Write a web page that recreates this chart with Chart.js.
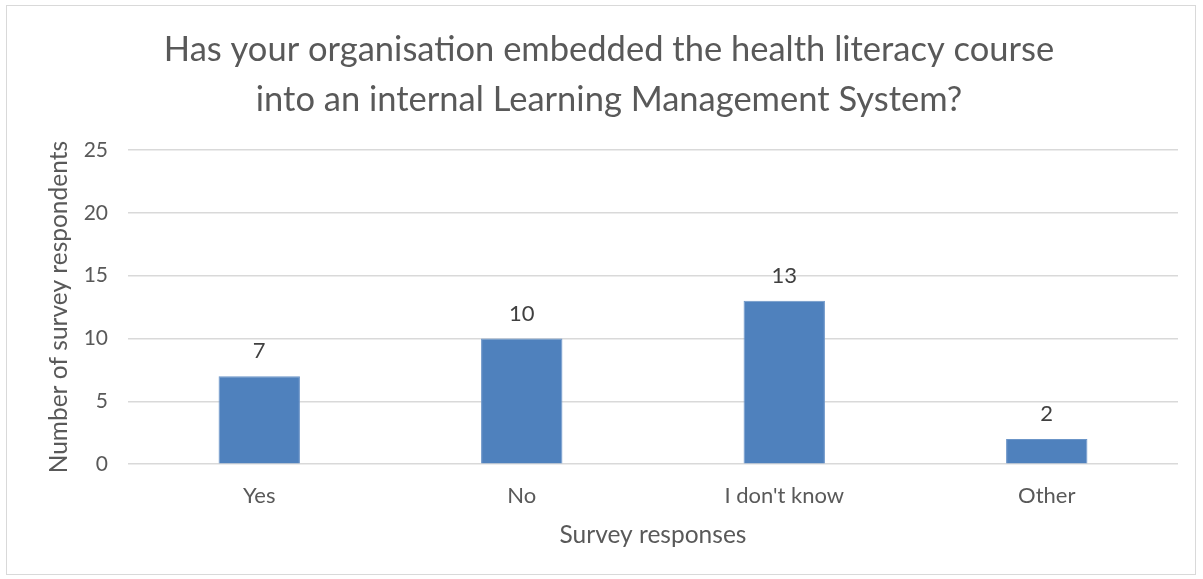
<!DOCTYPE html>
<html>
<head>
<meta charset="utf-8">
<script src="https://cdn.jsdelivr.net/npm/chart.js@4/dist/chart.umd.min.js"></script>
<style>
    html, body { margin: 0; padding: 0; background: #ffffff; }
    #wrap
    {
        position: absolute;
        left: 6px; top: 5px;
        width: 1190px; height: 570px;
        border: 1.5px solid #d9d9d9;
        box-sizing: border-box;
    }
    canvas { display: block; }
</style>
</head>
<body>
<div id="wrap"><canvas id="surveyChart"></canvas></div>
<script>
    const categories = ["Yes", "No", "I don't know", "Other"];
    const respondents = [7, 10, 13, 2];
    const yTicks = [0, 5, 10, 15, 20, 25];

    const titleLines = [
        "Has your organisation embedded the health literacy course",
        "into an internal Learning Management System?"
    ];

    const textColor = "#595959";
    const fontFamily = "Lato, 'Open Sans', sans-serif";

    // simple value labels above each bar (no datalabels plugin available)
    const barValueLabels =
    {
        id: "barValueLabels",
        afterDatasetsDraw: function(chart)
        {
            const ctx = chart.ctx;
            const meta = chart.getDatasetMeta(0);
            ctx.save();
            ctx.fillStyle = "#404040";
            ctx.font = "22px " + fontFamily;
            ctx.textAlign = "center";
            ctx.textBaseline = "middle";
            meta.data.forEach(function(bar, i)
            {
                ctx.fillText(respondents[i], bar.x, bar.y - 25);
            });
            ctx.restore();
        }
    };

    const canvas = document.getElementById("surveyChart");
    canvas.width = 1187;
    canvas.height = 567;

    new Chart(canvas.getContext("2d"),
    {
        type: "bar",
        data:
        {
            labels: categories,
            datasets: [
                {
                    data: respondents,
                    backgroundColor: "#4f81bd",
                    borderColor: "#6b95c8",
                    borderWidth: 1,
                    categoryPercentage: 1.0,
                    barPercentage: 0.31
                }
            ]
        },
        options:
        {
            responsive: false,
            animation: false,
            layout: { padding: { left: 33, right: 16, top: 5, bottom: 19 } },
            plugins:
            {
                legend: { display: false },
                tooltip: { enabled: false },
                title:
                {
                    display: true,
                    text: titleLines,
                    color: textColor,
                    font: { size: 34.5, family: fontFamily, weight: "normal", lineHeight: 1.45 },
                    padding: { top: 14, bottom: 25 }
                }
            },
            scales:
            {
                y:
                {
                    min: 0,
                    max: 25,
                    afterBuildTicks: function(axis)
                    {
                        axis.ticks = yTicks.map(function(v) { return { value: v }; });
                    },
                    afterFit: function(axis)
                    {
                        axis.width = 88;
                    },
                    border: { display: false },
                    grid: { color: "#d9d9d9", lineWidth: 1.5, drawTicks: false },
                    ticks: { color: textColor, padding: 20, font: { size: 21, family: fontFamily } },
                    title:
                    {
                        display: true,
                        text: "Number of survey respondents",
                        color: textColor,
                        font: { size: 24.5, family: fontFamily },
                        padding: { bottom: 4 }
                    }
                },
                x:
                {
                    border: { display: false },
                    grid: { display: false },
                    ticks: { color: textColor, padding: 11, font: { size: 22, family: fontFamily } },
                    title:
                    {
                        display: true,
                        text: "Survey responses",
                        color: textColor,
                        font: { size: 24.5, family: fontFamily },
                        padding: { top: 0 }
                    }
                }
            }
        },
        plugins: [barValueLabels]
    });
</script>
</body>
</html>
